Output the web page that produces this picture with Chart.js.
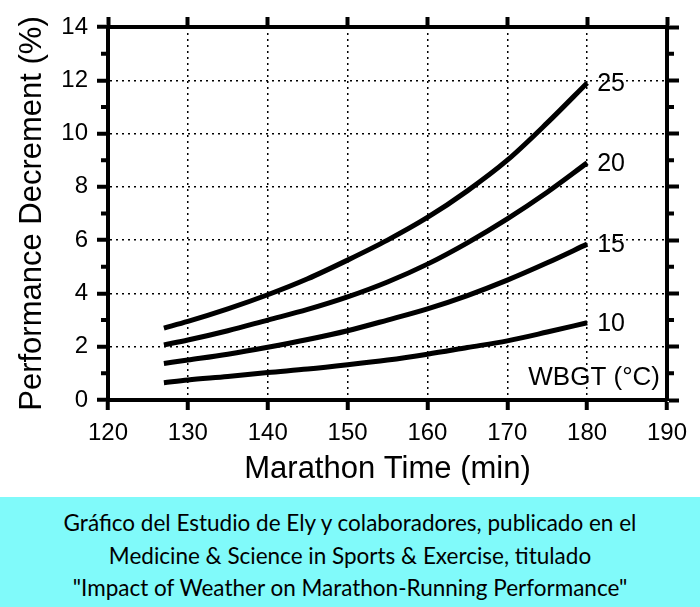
<!DOCTYPE html>
<html>
<head>
<meta charset="utf-8">
<script src="https://cdn.jsdelivr.net/npm/chart.js@4.4.1/dist/chart.umd.min.js"></script>
<style>
  body { margin: 0; background: #fff; }
  #wrap { width: 700px; height: 497px; position: relative; }
  #caption {
    width: 700px; height: 110px; background: #80fafa;
    font-family: Lato, "Open Sans", sans-serif; font-size: 22.5px; color: #000;
    text-align: center; line-height: 32.5px; padding-top: 10px; box-sizing: border-box;
  }
</style>
</head>
<body>
<div id="wrap"><canvas id="myChart"></canvas></div>
<div id="caption">Gráfico del Estudio de Ely y colaboradores, publicado en el<br>Medicine &amp; Science in Sports &amp; Exercise, titulado<br>"Impact of Weather on Marathon-Running Performance"</div>
<script>
// marathon time (min)
var times = [127, 130, 135, 140, 145, 150, 155, 160, 165, 170, 175, 180];
// performance decrement (%) for each WBGT
var wbgt25 = [2.7, 2.95, 3.42, 3.95, 4.55, 5.25, 6.0, 6.85, 7.85, 9.0, 10.4, 11.9];
var wbgt20 = [2.07, 2.25, 2.6, 3.0, 3.4, 3.87, 4.43, 5.1, 5.9, 6.8, 7.8, 8.9];
var wbgt15 = [1.37, 1.5, 1.72, 1.98, 2.27, 2.6, 3.0, 3.42, 3.92, 4.5, 5.15, 5.85];
var wbgt10 = [0.65, 0.75, 0.88, 1.03, 1.16, 1.32, 1.5, 1.72, 1.97, 2.22, 2.55, 2.9];
var seriesLabels = ["25", "20", "15", "10"];
var minorTicks = [1, 3, 5, 7, 9, 11, 13];

var axisFont = "'Liberation Sans', Arial, sans-serif";

function toPoints(vals) {
  return vals.map(function (v, i) { return { x: times[i], y: v }; });
}

var allSeries = [wbgt25, wbgt20, wbgt15, wbgt10];

var datasets = allSeries.map(function (vals, i) {
  return {
    label: seriesLabels[i],
    data: toPoints(vals),
    borderColor: "#000",
    borderWidth: 5,
    pointRadius: 0,
    tension: 0.4,
    cubicInterpolationMode: "monotone"
  };
});

// curve labels, WBGT note, minor ticks
var extras = {
  id: "extras",
  afterDraw: function (chart) {
    var ctx = chart.ctx;
    var xs = chart.scales.x, ys = chart.scales.y;
    var area = chart.chartArea;
    ctx.save();
    ctx.fillStyle = "#000";
    ctx.font = "25px " + axisFont;
    ctx.textAlign = "left";
    ctx.textBaseline = "middle";
    allSeries.forEach(function (vals, i) {
      var last = vals.length - 1;
      ctx.fillText(seriesLabels[i], xs.getPixelForValue(times[last]) + 10, ys.getPixelForValue(vals[last]) + 1);
    });
    ctx.font = "26px " + axisFont;
    ctx.textAlign = "right";
    ctx.fillText("WBGT (°C)", area.right - 7, area.bottom - 22);

    ctx.strokeStyle = "#000";
    ctx.lineWidth = 4;
    minorTicks.forEach(function (v) {
      var y = ys.getPixelForValue(v);
      ctx.beginPath();
      ctx.moveTo(area.left - 7, y);
      ctx.lineTo(area.left, y);
      ctx.moveTo(area.right, y);
      ctx.lineTo(area.right + 7, y);
      ctx.stroke();
    });
    ctx.restore();
  }
};

new Chart(document.getElementById("myChart"), {
  type: "line",
  data: { datasets: datasets },
  options: {
    responsive: true,
    maintainAspectRatio: false,
    animation: false,
    layout: { padding: 0 },
    plugins: { legend: { display: false }, tooltip: { enabled: false } },
    scales: {
      x: {
        type: "linear", position: "bottom", min: 120, max: 190,
        ticks: { stepSize: 10, color: "#000", padding: 9, font: { family: axisFont, size: 24 } },
        grid: { color: "#000", lineWidth: 1.5, tickLength: 10, tickWidth: 4, tickColor: "#000" },
        border: { color: "#000", width: 4, dash: [2, 4] },
        title: { display: true, text: "Marathon Time (min)", color: "#000",
          font: { family: axisFont, size: 31, lineHeight: 1.2 }, padding: { top: 0, bottom: 9 } },
        afterFit: function (s) { s.height = 97; }
      },
      x2: {
        type: "linear", position: "top", min: 120, max: 190,
        ticks: { stepSize: 10, display: false },
        grid: { drawOnChartArea: false, tickLength: 10, tickWidth: 4, tickColor: "#000" },
        border: { color: "#000", width: 4 },
        afterFit: function (s) { s.height = 27; }
      },
      y: {
        type: "linear", position: "left", min: 0, max: 14,
        ticks: { stepSize: 2, color: "#000", padding: 9, font: { family: axisFont, size: 24 } },
        grid: { color: "#000", lineWidth: 1.5, tickLength: 11, tickWidth: 4, tickColor: "#000" },
        border: { color: "#000", width: 4, dash: [2, 4] },
        title: { display: true, text: "Performance Decrement (%)", color: "#000",
          font: { family: axisFont, size: 31, lineHeight: 1.2 }, padding: { top: 14, bottom: 0 } },
        afterFit: function (s) { s.width = 108; }
      },
      y2: {
        type: "linear", position: "right", min: 0, max: 14,
        ticks: { stepSize: 2, display: false },
        grid: { drawOnChartArea: false, tickLength: 12, tickWidth: 4, tickColor: "#000" },
        border: { color: "#000", width: 4 },
        afterFit: function (s) { s.width = 33; }
      }
    }
  },
  plugins: [extras]
});
</script>
</body>
</html>
